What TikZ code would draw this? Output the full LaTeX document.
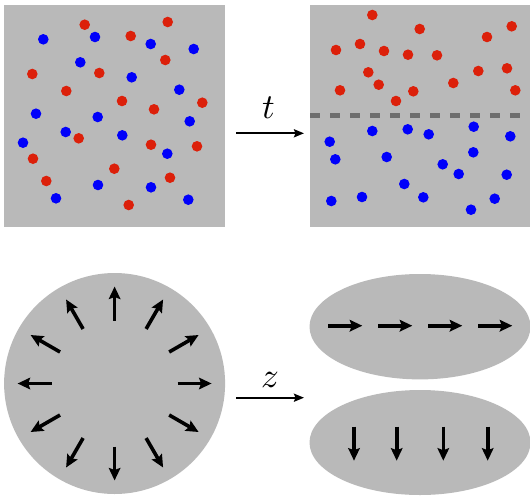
\documentclass[tikz,border=0pt]{standalone}
\usetikzlibrary{arrows.meta}
\definecolor{panel}{RGB}{185,185,185}
\definecolor{dotred}{RGB}{220,32,10}
\definecolor{dotblue}{RGB}{0,0,250}
\definecolor{dashgray}{RGB}{110,110,110}
\tikzset{
  reddot/.style={fill=dotred},
  bluedot/.style={fill=dotblue},
  fieldarrow/.style={line width=3.6pt,-{Stealth[length=12.5pt,width=11.5pt,inset=2pt]}},
  maparrow/.style={line width=2.2pt,-{Stealth[length=10pt,width=8pt,inset=1.5pt]}},
  maplabel/.style={scale=3.5,inner sep=0pt}
}
\begin{document}
\begin{tikzpicture}[x=1pt,y=-1pt]
\useasboundingbox (0,0) rectangle (530,496);
\fill[white] (0,0) rectangle (530,496);
% top left panel
\fill[panel] (4,5) rectangle (225,227);
\foreach \p in {(84.7,24.7),(167.7,22),(130.7,36),(165.3,60),(32.3,74),(99.3,73),(66.3,91),(122,101),(154,109.3),(202.3,102.7),(78.7,138.3),(151,144.7),(197,146.3),(33,158.7),(114.3,168.7),(46.3,181),(170,177.7),(128.7,205)}
  \fill[reddot] \p circle[radius=5.3];
\foreach \p in {(43.3,39.3),(95,37),(150.7,44),(193.7,49),(80.3,62.3),(131.7,77.3),(179.3,89.7),(36,113.7),(97.7,117),(189.7,121.3),(65.7,132),(122.3,135.3),(23,142.7),(167.3,153.7),(98,185),(151,187.3),(56,198.3),(188.3,199.7)}
  \fill[bluedot] \p circle[radius=5.3];
% top right panel
\fill[panel] (310,5) rectangle (530,227);
\foreach \p in {(372.3,15),(419.7,29),(511.7,26.3),(487,37),(336,50),(360,44),(384,51),(408,54.7),(437,55.3),(368.3,72.3),(378.7,84.7),(478.3,71),(507,68.3),(340,90.3),(413.3,91.3),(453.3,83),(515.3,90.3),(396,101)}
  \fill[reddot] \p circle[radius=5.3];
\foreach \p in {(372.3,131),(407.7,129.3),(428.7,134.3),(473.7,126.7),(510.3,136.3),(329.7,141.7),(335.3,159.3),(386.7,157),(473.3,152.3),(442.7,164.3),(458.7,174),(506.7,174.7),(404.3,184),(331.3,201),(362,197),(423.3,197.3),(471,209.7),(494.7,198.7)}
  \fill[bluedot] \p circle[radius=5.3];
\draw[dashgray,line width=5pt,dash pattern=on 10pt off 10pt] (310,115.2) -- (530,115.2);
% t arrow
\coordinate (ta) at (236,133.3);
\coordinate (tb) at (304,133.3);
\draw[maparrow] (ta) -- (tb);
\node[maplabel] (tl) at (268.5,108) {$t$};
% bottom left disc
\coordinate (C) at (114.6,383.5);
\fill[panel] (C) circle[radius=110.5];
\foreach \a in {0,30,...,330}
  \draw[fieldarrow] ([shift={(\a:63)}]C) -- ([shift={(\a:97)}]C);
% z arrow
\coordinate (za) at (236,397.7);
\coordinate (zb) at (304,397.7);
\draw[maparrow] (za) -- (zb);
\node[maplabel] (zl) at (270,379.5) {$z$};
% ellipses
\fill[panel] (420,326.7) ellipse[x radius=110.5,y radius=52.7];
\fill[panel] (420,442.5) ellipse[x radius=110.5,y radius=52.5];
\foreach \x in {328.3,378.3,428.3,478.3}
  \draw[fieldarrow] (\x,325.7) -- ++(34,0);
\foreach \x in {354,396.7,443.3,487.7}
  \draw[fieldarrow] (\x,426.7) -- ++(0,34);
\end{tikzpicture}
\end{document}
